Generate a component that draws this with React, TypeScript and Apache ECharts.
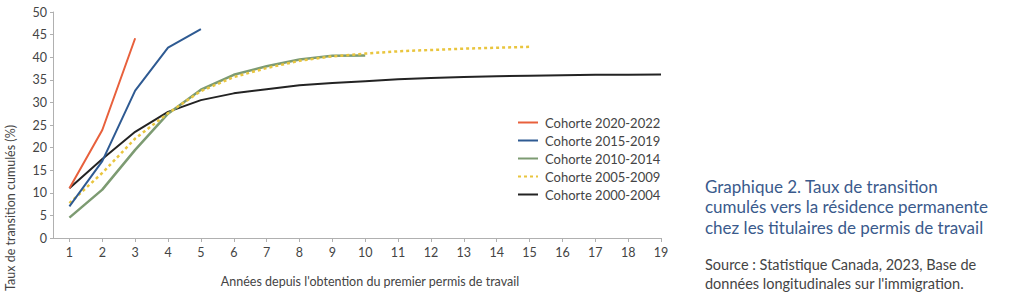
import React, { useEffect, useRef } from "react";
import * as echarts from "echarts";

const years = [1, 2, 3, 4, 5, 6, 7, 8, 9, 10, 11, 12, 13, 14, 15, 16, 17, 18, 19];
const xTicks = [1, 2, 3, 4, 5, 6, 7, 8, 9, 10, 11, 12, 13, 14, 15, 16, 17, 18, 19];

const c2020 = [11.0, 23.9, 44.2];
const c2015 = [7.0, 17.0, 32.6, 42.1, 46.2];
const c2010 = [4.5, 10.7, 19.5, 27.5, 32.8, 36.1, 38.0, 39.5, 40.3, 40.4];
const c2005 = [7.7, 14.4, 22.0, 27.6, 32.5, 35.6, 37.6, 39.2, 40.2, 40.8, 41.3, 41.6, 41.9, 42.1, 42.3];
const c2000 = [11.0, 17.5, 23.5, 27.9, 30.5, 32.0, 32.9, 33.8, 34.3, 34.7, 35.1, 35.4, 35.6, 35.8, 35.9, 36.0, 36.1, 36.1, 36.2];

const names = ["Cohorte 2020-2022", "Cohorte 2015-2019", "Cohorte 2010-2014", "Cohorte 2005-2009", "Cohorte 2000-2004"];

const FONT = "Lato";

function pairs(vals: number[]) {
  return vals.map((v, i) => [years[i], v]);
}

export default function App() {
  const ref = useRef<HTMLDivElement>(null);
  useEffect(() => {
    if (!ref.current) return;
    const chart = echarts.init(ref.current, null, { renderer: "svg" });
    const mk = (name: string, vals: number[], color: string, type: any, width: number) => ({
      name,
      type: "line",
      data: pairs(vals),
      symbol: "none",
      showSymbol: false,
      lineStyle: { color, width, type },
      itemStyle: { color },
      z: 2,
    });
    chart.setOption({
      animation: false,
      textStyle: { fontFamily: FONT },
      grid: { left: 53, right: 363, top: 12, bottom: 56, containLabel: false },
      xAxis: {
        type: "value",
        min: 0.5,
        max: 19,
        axisLine: { show: true, lineStyle: { color: "#b0b0b0", width: 1 } },
        axisTick: { show: true, customValues: xTicks, length: 4, lineStyle: { color: "#b0b0b0" } },
        axisLabel: { customValues: xTicks, color: "#444", fontSize: 12.5, margin: 8, fontFamily: FONT },
        splitLine: { show: false },
      },
      yAxis: {
        type: "value",
        min: 0,
        max: 50,
        interval: 5,
        axisLine: { show: true, lineStyle: { color: "#b0b0b0", width: 1 } },
        axisTick: { show: true, length: 3, lineStyle: { color: "#b0b0b0" } },
        axisLabel: { color: "#444", fontSize: 12.5, margin: 6, fontFamily: FONT },
        splitLine: { show: false },
      },
      legend: {
        orient: "vertical",
        left: 512,
        top: 111,
        itemWidth: 20,
        itemHeight: 10,
        itemGap: 5,
        data: names,
        itemStyle: { opacity: 0 },
        textStyle: { color: "#444", fontSize: 13, fontFamily: FONT, padding: [0, 0, 0, 2] },
      },
      series: [
        mk(names[4], c2000, "#232323", "solid", 2),
        mk(names[2], c2010, "#7d9b72", "solid", 2.5),
        mk(names[3], c2005, "#e9c53e", [3, 3], 2.5),
        mk(names[1], c2015, "#2e5a92", "solid", 2),
        mk(names[0], c2020, "#e8603c", "solid", 2),
      ],
      graphic: [
        {
          type: "text",
          left: 4,
          top: 125,
          rotation: Math.PI / 2,
          originX: 0,
          originY: 0,
          style: {
            text: "Taux de transition cumulés (%)",
            fill: "#444",
            font: `12.5px ${FONT}`,
            align: "center",
            verticalAlign: "middle",
          },
        },
        {
          type: "text",
          x: 370,
          y: 281,
          style: {
            text: "Années depuis l'obtention du premier permis de travail",
            fill: "#444",
            font: `12.5px ${FONT}`,
            align: "center",
            verticalAlign: "middle",
          },
        },
        {
          type: "text",
          x: 705,
          y: 176,
          style: {
            text: "Graphique 2. Taux de transition\ncumulés vers la résidence permanente\nchez les titulaires de permis de travail",
            fill: "#3a5a8c",
            font: `17px ${FONT}`,
            lineHeight: 20.5,
            align: "left",
            verticalAlign: "top",
          },
        },
        {
          type: "text",
          x: 705,
          y: 255,
          style: {
            text: "Source : Statistique Canada, 2023, Base de\ndonnées longitudinales sur l'immigration.",
            fill: "#444",
            font: `14.5px ${FONT}`,
            lineHeight: 19,
            align: "left",
            verticalAlign: "top",
          },
        },
      ],
    });
    return () => chart.dispose();
  }, []);
  return <div ref={ref} style={{ width: 1024, height: 294, position: "absolute", left: 0, top: 0 }} />;
}
